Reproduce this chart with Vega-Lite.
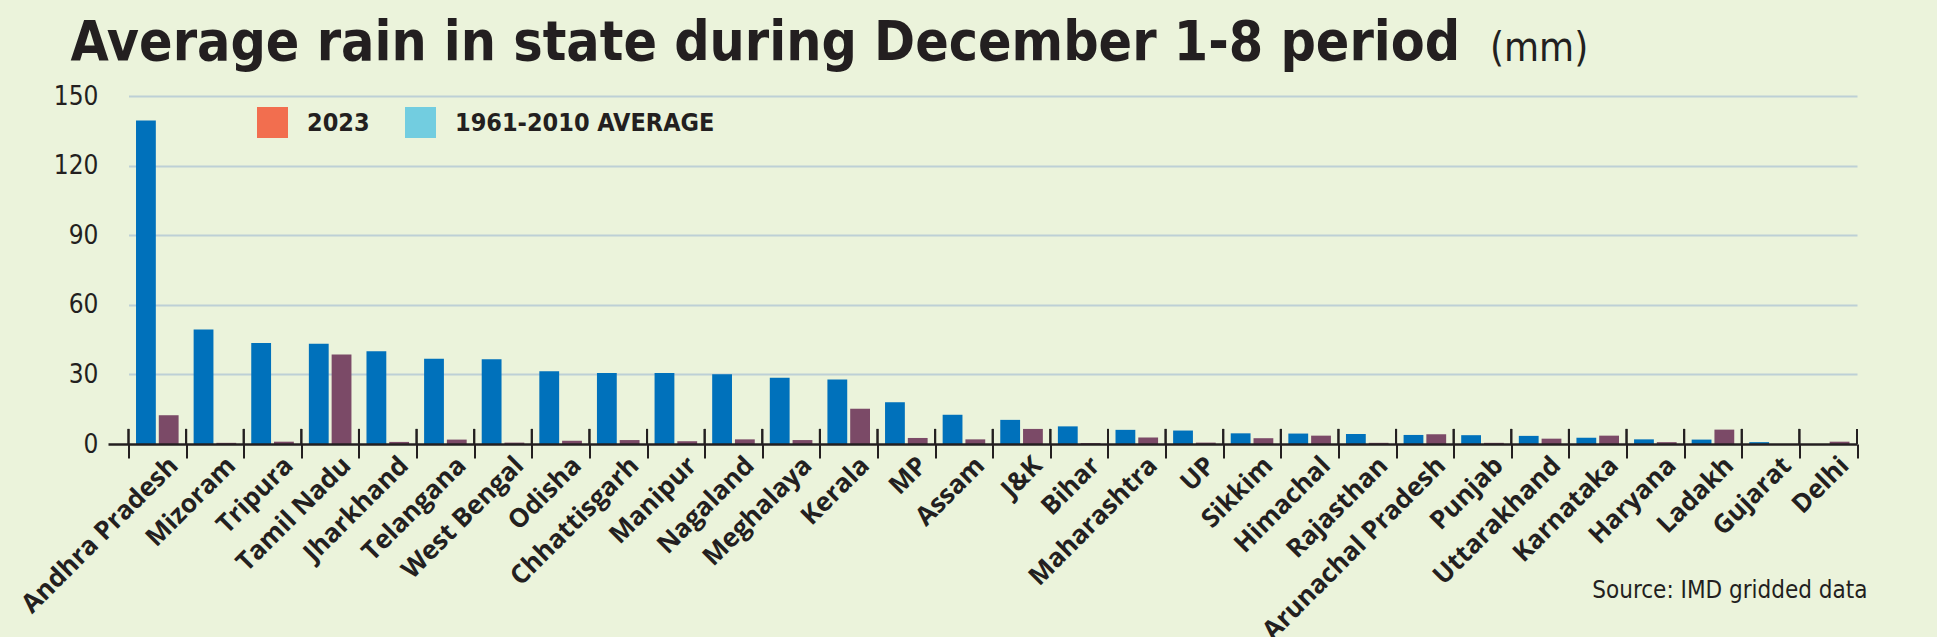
{
  "$schema": "https://vega.github.io/schema/vega-lite/v6.json",
  "autosize": {"type": "none"},
  "padding": {"left": 128.5, "top": 96, "right": 80, "bottom": 193},
  "width": 1728.5,
  "height": 348,
  "background": "#ebf3db",
  "title": {
    "text": "Average rain in state during December 1-8 period",
    "font": "DejaVu Sans Condensed, sans-serif",
    "fontSize": 55,
    "fontWeight": "bold",
    "color": "#231f20",
    "anchor": "start",
    "frame": "group",
    "baseline": "alphabetic",
    "offset": 0,
    "dx": -58,
    "dy": 87
  },
  "data": {
    "values": [
      {"state": "Andhra Pradesh", "series": "1961-2010 AVERAGE", "mm": 139.4},
      {"state": "Andhra Pradesh", "series": "2023", "mm": 12.4},
      {"state": "Mizoram", "series": "1961-2010 AVERAGE", "mm": 49.3},
      {"state": "Mizoram", "series": "2023", "mm": 0.5},
      {"state": "Tripura", "series": "1961-2010 AVERAGE", "mm": 43.5},
      {"state": "Tripura", "series": "2023", "mm": 1.0},
      {"state": "Tamil Nadu", "series": "1961-2010 AVERAGE", "mm": 43.2},
      {"state": "Tamil Nadu", "series": "2023", "mm": 38.6},
      {"state": "Jharkhand", "series": "1961-2010 AVERAGE", "mm": 40.0},
      {"state": "Jharkhand", "series": "2023", "mm": 0.9},
      {"state": "Telangana", "series": "1961-2010 AVERAGE", "mm": 36.7},
      {"state": "Telangana", "series": "2023", "mm": 1.9},
      {"state": "West Bengal", "series": "1961-2010 AVERAGE", "mm": 36.5},
      {"state": "West Bengal", "series": "2023", "mm": 0.6},
      {"state": "Odisha", "series": "1961-2010 AVERAGE", "mm": 31.4},
      {"state": "Odisha", "series": "2023", "mm": 1.4},
      {"state": "Chhattisgarh", "series": "1961-2010 AVERAGE", "mm": 30.6},
      {"state": "Chhattisgarh", "series": "2023", "mm": 1.7},
      {"state": "Manipur", "series": "1961-2010 AVERAGE", "mm": 30.6},
      {"state": "Manipur", "series": "2023", "mm": 1.2},
      {"state": "Nagaland", "series": "1961-2010 AVERAGE", "mm": 30.1},
      {"state": "Nagaland", "series": "2023", "mm": 2.0},
      {"state": "Meghalaya", "series": "1961-2010 AVERAGE", "mm": 28.6},
      {"state": "Meghalaya", "series": "2023", "mm": 1.7},
      {"state": "Kerala", "series": "1961-2010 AVERAGE", "mm": 27.8},
      {"state": "Kerala", "series": "2023", "mm": 15.2},
      {"state": "MP", "series": "1961-2010 AVERAGE", "mm": 18.0},
      {"state": "MP", "series": "2023", "mm": 2.6},
      {"state": "Assam", "series": "1961-2010 AVERAGE", "mm": 12.6},
      {"state": "Assam", "series": "2023", "mm": 2.0},
      {"state": "J&K", "series": "1961-2010 AVERAGE", "mm": 10.4},
      {"state": "J&K", "series": "2023", "mm": 6.5},
      {"state": "Bihar", "series": "1961-2010 AVERAGE", "mm": 7.6},
      {"state": "Bihar", "series": "2023", "mm": 0.4},
      {"state": "Maharashtra", "series": "1961-2010 AVERAGE", "mm": 6.1},
      {"state": "Maharashtra", "series": "2023", "mm": 2.8},
      {"state": "UP", "series": "1961-2010 AVERAGE", "mm": 5.8},
      {"state": "UP", "series": "2023", "mm": 0.6},
      {"state": "Sikkim", "series": "1961-2010 AVERAGE", "mm": 4.6},
      {"state": "Sikkim", "series": "2023", "mm": 2.5},
      {"state": "Himachal", "series": "1961-2010 AVERAGE", "mm": 4.5},
      {"state": "Himachal", "series": "2023", "mm": 3.6},
      {"state": "Rajasthan", "series": "1961-2010 AVERAGE", "mm": 4.3},
      {"state": "Rajasthan", "series": "2023", "mm": 0.5},
      {"state": "Arunachal Pradesh", "series": "1961-2010 AVERAGE", "mm": 3.9},
      {"state": "Arunachal Pradesh", "series": "2023", "mm": 4.2},
      {"state": "Punjab", "series": "1961-2010 AVERAGE", "mm": 3.8},
      {"state": "Punjab", "series": "2023", "mm": 0.5},
      {"state": "Uttarakhand", "series": "1961-2010 AVERAGE", "mm": 3.5},
      {"state": "Uttarakhand", "series": "2023", "mm": 2.3},
      {"state": "Karnataka", "series": "1961-2010 AVERAGE", "mm": 2.7},
      {"state": "Karnataka", "series": "2023", "mm": 3.6},
      {"state": "Haryana", "series": "1961-2010 AVERAGE", "mm": 2.0},
      {"state": "Haryana", "series": "2023", "mm": 0.8},
      {"state": "Ladakh", "series": "1961-2010 AVERAGE", "mm": 1.9},
      {"state": "Ladakh", "series": "2023", "mm": 6.2},
      {"state": "Gujarat", "series": "1961-2010 AVERAGE", "mm": 0.8},
      {"state": "Gujarat", "series": "2023", "mm": 0.0},
      {"state": "Delhi", "series": "1961-2010 AVERAGE", "mm": 0.0},
      {"state": "Delhi", "series": "2023", "mm": 1.0}
    ]
  },
  "encoding": {
    "x": {
      "field": "state",
      "type": "nominal",
      "sort": null,
      "scale": {"paddingInner": 0, "paddingOuter": 0},
      "axis": {
        "title": "Source: IMD gridded data",
        "titleFont": "DejaVu Sans Condensed, sans-serif",
        "titleFontSize": 24,
        "titleFontWeight": "normal",
        "titleColor": "#231f20",
        "titleAlign": "right",
        "titleBaseline": "alphabetic",
        "titleX": 1738.5,
        "titleY": 153,
        "tickBand": "extent",
        "grid": false,
        "domainColor": "#231f20",
        "domainWidth": 2.5,
        "tickColor": "#231f20",
        "tickWidth": 2,
        "tickSize": 14,
        "labelAngle": -45,
        "labelAlign": "right",
        "labelBaseline": "middle",
        "labelPadding": 3,
        "labelOffset": 16,
        "labelFont": "Open Sans, sans-serif",
        "labelFontWeight": "bold",
        "labelFontSize": 26,
        "labelColor": "#231f20",
        "labelLimit": 0,
        "labelOverlap": false,
        "zindex": 1
      }
    },
    "y": {
      "field": "mm",
      "type": "quantitative",
      "scale": {"domain": [0, 150], "nice": false},
      "axis": {
        "title": "(mm)",
        "titleFont": "DejaVu Sans Condensed, sans-serif",
        "titleFontSize": 40,
        "titleFontWeight": "normal",
        "titleColor": "#231f20",
        "titleAngle": 0,
        "titleAlign": "left",
        "titleBaseline": "alphabetic",
        "titleX": 1361,
        "titleY": -36,
        "values": [0, 30, 60, 90, 120, 150],
        "domain": false,
        "grid": true,
        "gridColor": {"condition": {"test": "datum.value === 0", "value": "transparent"}, "value": "#bdd0d6"},
        "gridWidth": 2,
        "tickSize": 20.5,
        "tickWidth": 2.5,
        "tickColor": {"condition": {"test": "datum.value === 0", "value": "#231f20"}, "value": "transparent"},
        "labelPadding": 10,
        "labelFont": "DejaVu Sans Condensed, sans-serif",
        "labelFontSize": 26,
        "labelColor": "#231f20"
      }
    }
  },
  "layer": [
    {
      "mark": {"type": "bar"},
      "encoding": {
        "xOffset": {
          "field": "series",
          "type": "nominal",
          "sort": ["1961-2010 AVERAGE", "2023"],
          "scale": {"paddingInner": 0.13, "paddingOuter": 0.33}
        },
        "color": {
          "field": "series",
          "type": "nominal",
          "scale": {"domain": ["2023", "1961-2010 AVERAGE"], "range": ["#7b4a67", "#0071bb"]},
          "legend": null
        }
      }
    },
    {
      "mark": {"type": "bar"},
      "encoding": {
        "y": {"datum": 0},
        "xOffset": {
          "field": "series",
          "type": "nominal",
          "sort": ["1961-2010 AVERAGE", "2023"]
        },
        "color": {
          "field": "series",
          "type": "nominal",
          "scale": {"domain": ["2023", "1961-2010 AVERAGE"], "range": ["#f26e4f", "#72cde0"]},
          "legend": {
            "title": null,
            "orient": "none",
            "legendX": 128.5,
            "legendY": 11,
            "direction": "horizontal",
            "padding": 0,
            "symbolType": "square",
            "symbolSize": 961,
            "symbolStrokeWidth": 0,
            "symbolOpacity": 1,
            "labelOffset": 19,
            "columnPadding": 35,
            "labelLimit": 0,
            "labelFont": "DejaVu Sans Condensed, sans-serif",
            "labelFontWeight": "bold",
            "labelFontSize": 25,
            "labelColor": "#231f20"
          }
        }
      }
    },
    {
      "mark": {"type": "rule", "color": "#231f20", "strokeWidth": 2},
      "encoding": {
        "x": {"field": "state", "type": "nominal", "sort": null, "bandPosition": 0},
        "y": {"datum": 0},
        "y2": {"datum": 6.5}
      }
    },
    {
      "transform": [{"filter": "datum.state === 'Delhi'"}],
      "mark": {"type": "rule", "color": "#231f20", "strokeWidth": 2},
      "encoding": {
        "x": {"field": "state", "type": "nominal", "sort": null, "bandPosition": 1},
        "y": {"datum": 0},
        "y2": {"datum": 6.5}
      }
    }
  ],
  "resolve": {
    "scale": {"color": "independent"},
    "legend": {"color": "independent"}
  },
  "config": {
    "view": {"stroke": null}
  }
}
